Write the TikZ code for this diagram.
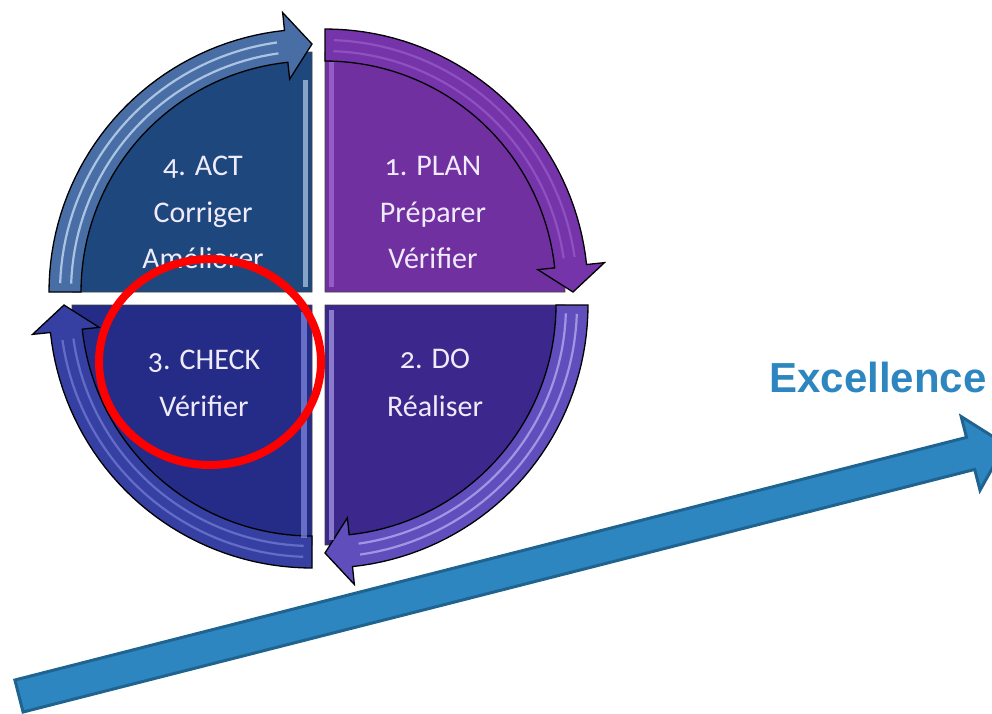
\documentclass[tikz,border=0pt]{standalone}
\usepackage{fontspec}
\setmainfont{Carlito}
\newfontfamily\qfont[Numbers=OldStyle]{Carlito}
\newfontfamily\efont{Liberation Sans}
\definecolor{actbody}{RGB}{30,72,125}
\definecolor{actband}{RGB}{72,110,165}
\definecolor{actstripe}{RGB}{205,225,248}
\definecolor{planbody}{RGB}{112,48,160}
\definecolor{planband}{RGB}{118,52,170}
\definecolor{planstripe}{RGB}{165,110,215}
\definecolor{dobody}{RGB}{60,40,140}
\definecolor{doband}{RGB}{95,78,188}
\definecolor{dostripe}{RGB}{190,180,245}
\definecolor{chkbody}{RGB}{36,44,136}
\definecolor{chkband}{RGB}{54,64,162}
\definecolor{chkstripe}{RGB}{130,140,225}
\definecolor{qtext}{RGB}{240,235,250}
\definecolor{exblue}{RGB}{46,134,193}
\definecolor{exedge}{RGB}{31,99,145}
\tikzset{
  qlabel/.style={text=qtext, font=\qfont\fontsize{30}{36}\selectfont, anchor=base, inner sep=0pt},
  exlabel/.style={text=exblue, font=\efont\bfseries\fontsize{42}{50}\selectfont, inner sep=0pt},
}
\newcommand\pdcaquad[7]{%
  \fill[#4, draw=black!75, line width=0.8] (#1,#2) -- plot[domain=#3:#3+90, samples=40] ({#1+240*cos(\x)},{#2+240*sin(\x)}) -- cycle;
  \filldraw[fill=#5, draw=black, line width=1.3]
    plot[domain=#3:#3+84, samples=40] ({#1+263*cos(\x)},{#2+263*sin(\x)})
    -- ({#1+281*cos(#3+84)},{#2+281*sin(#3+84)})
    -- ({#1+248*cos(#3+90)},{#2+248*sin(#3+90)})
    -- ({#1+214*cos(#3+84)},{#2+214*sin(#3+84)})
    -- plot[domain=#3+84:#3, samples=40] ({#1+231*cos(\x)},{#2+231*sin(\x)}) -- cycle;
  \draw[#6, opacity=#7, line width=2.2] plot[domain=#3+2:#3+82, samples=40] ({#1+241*cos(\x)},{#2+241*sin(\x)});
  \draw[#6, opacity=#7, line width=2.2] plot[domain=#3+2:#3+82, samples=40] ({#1+252*cos(\x)},{#2+252*sin(\x)});
}
\begin{document}
\begin{tikzpicture}[x=1pt,y=-1pt]
\useasboundingbox (0,0) rectangle (992,713);
\clip (0,0) rectangle (992,713);
% quadrants
\pdcaquad{312}{292}{180}{actbody}{actband}{actstripe}{0.75}
\pdcaquad{325}{292}{270}{planbody}{planband}{planstripe}{0.5}
\pdcaquad{325}{305}{0}{dobody}{doband}{dostripe}{0.7}
\pdcaquad{312}{305}{90}{chkbody}{chkband}{chkstripe}{0.6}
% bevel highlights on straight edges
\fill[actstripe, opacity=0.6] (303,80) rectangle (308,287);
\fill[planstripe, opacity=0.7] (329,62) rectangle (334,287);
\fill[dostripe, opacity=0.6] (329,310) rectangle (334,540);
\fill[chkstripe, opacity=0.7] (301,312) rectangle (307,538);
% texts
\node[qlabel] (act1) at (203,175) {4. ACT};
\node[qlabel] (act2) at (203,222) {Corriger};
\node[qlabel] (act3) at (203,268) {Améliorer};
\node[qlabel] (plan1) at (433,175) {1. PLAN};
\node[qlabel] (plan2) at (433,222) {Préparer};
\node[qlabel] (plan3) at (433,268) {Vérifier};
\node[qlabel] (chk1) at (204,369) {3. CHECK};
\node[qlabel] (chk2) at (204,416) {Vérifier};
\node[qlabel] (do1) at (435,368) {2. DO};
\node[qlabel] (do2) at (435,416) {Réaliser};
% red ellipse
\draw[red, line width=8] (210,362) ellipse [x radius=111, y radius=103];
% excellence
\node[exlabel] (exc) at (878,377) {Excellence};
% big arrow
\filldraw[fill=exblue, draw=exedge, line width=3, line join=miter]
  (14.9,680) -- (966.5,437.4) -- (961.2,416.6) -- (1005.5,444.5)
  -- (980,490.2) -- (974.7,469.4) -- (23.1,712) -- cycle;
\end{tikzpicture}
\end{document}
